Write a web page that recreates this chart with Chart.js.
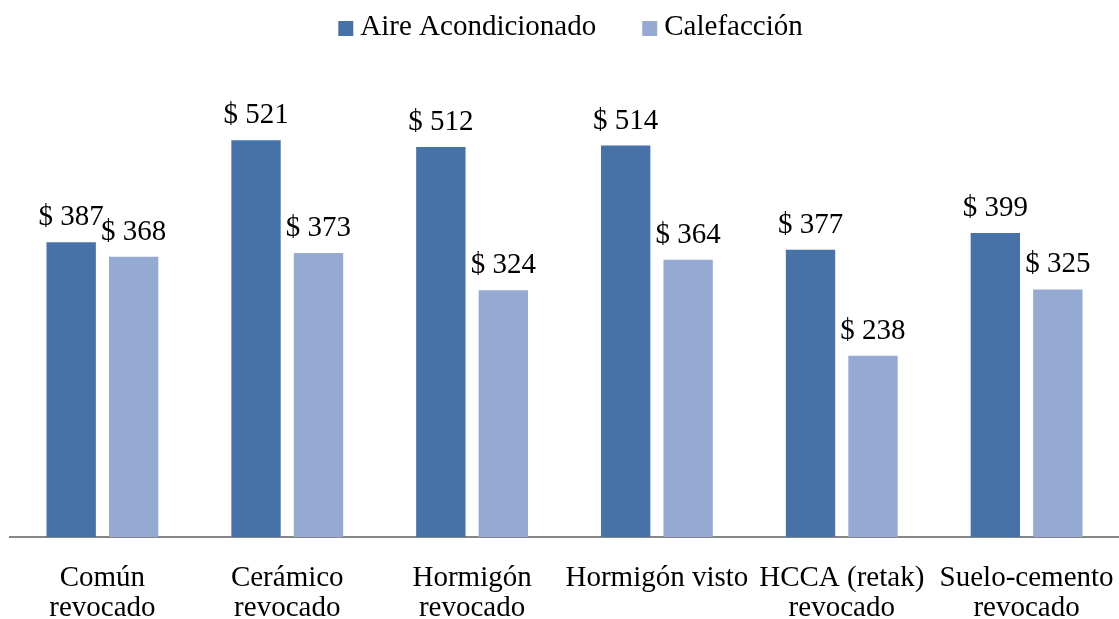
<!DOCTYPE html>
<html><head><meta charset="utf-8">
<script src="https://cdn.jsdelivr.net/npm/chart.js@4/dist/chart.umd.min.js"></script>
<style>html,body{margin:0;padding:0;background:#fff;}#wrap{width:1119px;height:619px;position:relative}</style>
</head><body><div id="wrap"><canvas id="c"></canvas></div>
<script>
const categories = [['Común','revocado'],['Cerámico','revocado'],['Hormigón','revocado'],'Hormigón visto',['HCCA (retak)','revocado'],['Suelo-cemento','revocado']];
const seriesNames = ['Aire Acondicionado','Calefacción'];
const aireValues = [387,521,512,514,377,399];
const calefValues = [368,373,324,364,238,325];
const seriesColors = ['#4672A8','#95AAD2'];
const FONT = "'Liberation Serif','Times New Roman',serif";
const FSIZE = 29;

const labelPlugin = {
  id: 'valueLabels',
  afterDatasetsDraw(chart) {
    const ctx = chart.ctx;
    ctx.save();
    ctx.font = FSIZE + 'px ' + FONT;
    ctx.fillStyle = '#000';
    ctx.textAlign = 'center';
    ctx.textBaseline = 'alphabetic';
    chart.data.datasets.forEach((ds, i) => {
      chart.getDatasetMeta(i).data.forEach((el, j) => {
        ctx.fillText('$ ' + ds.data[j], el.x, el.y - 17);
      });
    });
    ctx.restore();
  }
};

const legendPlugin = {
  id: 'topLegend',
  afterDraw(chart) {
    const ctx = chart.ctx;
    ctx.save();
    ctx.font = FSIZE + 'px ' + FONT;
    const box = 15, gap = 7, spacing = 46;
    const widths = chart.data.datasets.map(d => ctx.measureText(d.label).width);
    let total = 0;
    widths.forEach((w, i) => { total += box + gap + w + (i < widths.length - 1 ? spacing : 0); });
    let x = chart.width / 2 + 11 - total / 2;
    const baseY = 35;
    chart.data.datasets.forEach((d, i) => {
      ctx.fillStyle = d.backgroundColor;
      ctx.fillRect(x, baseY - 14, box, box);
      x += box + gap;
      ctx.fillStyle = '#000';
      ctx.textAlign = 'left';
      ctx.textBaseline = 'alphabetic';
      ctx.fillText(d.label, x, baseY);
      x += widths[i] + spacing;
    });
    ctx.restore();
  }
};

new Chart(document.getElementById('c'), {
  type: 'bar',
  data: {
    labels: categories,
    datasets: [
      { label: seriesNames[0], data: aireValues, backgroundColor: seriesColors[0], categoryPercentage: 0.676, barPercentage: 0.79 },
      { label: seriesNames[1], data: calefValues, backgroundColor: seriesColors[1], categoryPercentage: 0.676, barPercentage: 0.79 }
    ]
  },
  options: {
    responsive: true,
    maintainAspectRatio: false,
    animation: false,
    devicePixelRatio: 1,
    layout: { padding: { top: 80, left: 10, right: 0, bottom: 0 } },
    plugins: { legend: { display: false }, tooltip: { enabled: false } },
    scales: {
      x: {
        grid: { display: false },
        border: { display: true, color: '#868686', width: 2 },
        ticks: { color: '#000', font: { family: FONT, size: FSIZE, lineHeight: 1.02 }, padding: 19, maxRotation: 0, autoSkip: false },
        afterFit(scale) { scale.height = 82; scale.paddingLeft = 0; scale.paddingRight = 0; }
      },
      y: { display: false, min: 0, max: 600 }
    }
  },
  plugins: [labelPlugin, legendPlugin]
});
</script>
</body></html>
